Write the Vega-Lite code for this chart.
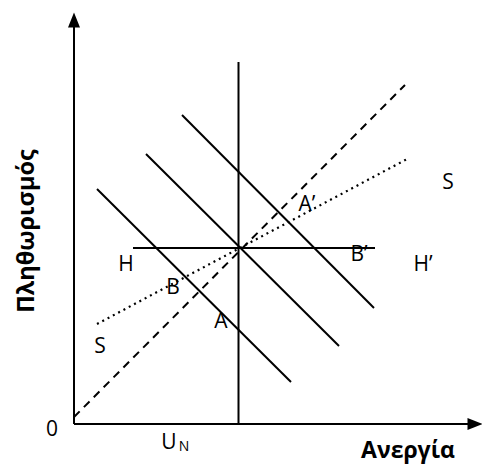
{
  "$schema": "https://vega.github.io/schema/vega-lite/v6.json",
  "width": 482,
  "height": 465,
  "padding": 0,
  "autosize": "none",
  "background": "white",
  "config": {"view": {"stroke": null}},
  "datasets": {
    "segments": [
      {"name": "yaxis", "style": "solid", "x1": 0, "y1": 0, "x2": 0, "y2": 398},
      {"name": "xaxis", "style": "solid", "x1": 0, "y1": 0, "x2": 396, "y2": 0},
      {"name": "UN", "style": "solid", "x1": 164.5, "y1": 0, "x2": 164.5, "y2": 362},
      {"name": "HH", "style": "solid", "x1": 59, "y1": 176, "x2": 301, "y2": 176},
      {"name": "AD1", "style": "solid", "x1": 23, "y1": 235, "x2": 217, "y2": 42},
      {"name": "AD2", "style": "solid", "x1": 72, "y1": 270, "x2": 265, "y2": 78},
      {"name": "AD3", "style": "solid", "x1": 108, "y1": 309, "x2": 300, "y2": 116},
      {"name": "ray", "style": "dashed", "x1": 0, "y1": 7, "x2": 331, "y2": 339},
      {"name": "SS", "style": "dotted", "x1": 23, "y1": 100, "x2": 335, "y2": 266}
    ],
    "arrows": [
      {"axis": "y", "x": 0, "y": 404},
      {"axis": "x", "x": 401, "y": 0}
    ],
    "labels": [
      {"text": "H", "x": 52, "y": 159},
      {"text": "H’", "x": 349, "y": 159},
      {"text": "B’", "x": 285, "y": 169},
      {"text": "A’", "x": 233, "y": 219},
      {"text": "B", "x": 99, "y": 136},
      {"text": "A", "x": 147, "y": 102},
      {"text": "S", "x": 374, "y": 241},
      {"text": "S", "x": 26, "y": 77},
      {"text": "0", "x": -22, "y": -6},
      {"text": "U", "x": 95, "y": -19}
    ]
  },
  "layer": [
    {
      "data": {"name": "segments"},
      "transform": [{"filter": "datum.style === 'solid'"}],
      "mark": {"type": "rule", "color": "black", "strokeWidth": 2},
      "encoding": {
        "x": {"field": "x1", "type": "quantitative", "scale": {"domain": [-74, 408], "nice": false, "zero": false}, "axis": null},
        "y": {"field": "y1", "type": "quantitative", "scale": {"domain": [-41, 424], "nice": false, "zero": false}, "axis": null},
        "x2": {"field": "x2"},
        "y2": {"field": "y2"}
      }
    },
    {
      "data": {"name": "segments"},
      "transform": [{"filter": "datum.style === 'dashed'"}],
      "mark": {"type": "rule", "color": "black", "strokeWidth": 2, "strokeDash": [8, 6]},
      "encoding": {
        "x": {"field": "x1", "type": "quantitative", "scale": {"domain": [-74, 408], "nice": false, "zero": false}, "axis": null},
        "y": {"field": "y1", "type": "quantitative", "scale": {"domain": [-41, 424], "nice": false, "zero": false}, "axis": null},
        "x2": {"field": "x2"},
        "y2": {"field": "y2"}
      }
    },
    {
      "data": {"name": "segments"},
      "transform": [{"filter": "datum.style === 'dotted'"}],
      "mark": {"type": "rule", "color": "black", "strokeWidth": 2.2, "strokeDash": [2, 4]},
      "encoding": {
        "x": {"field": "x1", "type": "quantitative", "scale": {"domain": [-74, 408], "nice": false, "zero": false}, "axis": null},
        "y": {"field": "y1", "type": "quantitative", "scale": {"domain": [-41, 424], "nice": false, "zero": false}, "axis": null},
        "x2": {"field": "x2"},
        "y2": {"field": "y2"}
      }
    },
    {
      "data": {"name": "arrows"},
      "transform": [{"filter": "datum.axis === 'y'"}],
      "mark": {"type": "point", "filled": true, "color": "black", "opacity": 1, "size": 225, "shape": "M0,-1L0.8,1L-0.8,1Z"},
      "encoding": {
        "x": {"field": "x", "type": "quantitative", "scale": {"domain": [-74, 408], "nice": false, "zero": false}, "axis": null},
        "y": {"field": "y", "type": "quantitative", "scale": {"domain": [-41, 424], "nice": false, "zero": false}, "axis": null}
      }
    },
    {
      "data": {"name": "arrows"},
      "transform": [{"filter": "datum.axis === 'x'"}],
      "mark": {"type": "point", "filled": true, "color": "black", "opacity": 1, "size": 225, "shape": "M1,0L-1,0.8L-1,-0.8Z"},
      "encoding": {
        "x": {"field": "x", "type": "quantitative", "scale": {"domain": [-74, 408], "nice": false, "zero": false}, "axis": null},
        "y": {"field": "y", "type": "quantitative", "scale": {"domain": [-41, 424], "nice": false, "zero": false}, "axis": null}
      }
    },
    {
      "data": {"name": "labels"},
      "mark": {"type": "text", "font": "Open Sans", "fontSize": 21, "color": "black", "align": "center", "baseline": "middle"},
      "encoding": {
        "x": {"field": "x", "type": "quantitative", "scale": {"domain": [-74, 408], "nice": false, "zero": false}, "axis": null},
        "y": {"field": "y", "type": "quantitative", "scale": {"domain": [-41, 424], "nice": false, "zero": false}, "axis": null},
        "text": {"field": "text"}
      }
    },
    {
      "data": {"values": [{"text": "N", "x": 110, "y": -23}]},
      "mark": {"type": "text", "font": "Open Sans", "fontSize": 14, "color": "black", "align": "center", "baseline": "middle"},
      "encoding": {
        "x": {"field": "x", "type": "quantitative", "scale": {"domain": [-74, 408], "nice": false, "zero": false}, "axis": null},
        "y": {"field": "y", "type": "quantitative", "scale": {"domain": [-41, 424], "nice": false, "zero": false}, "axis": null},
        "text": {"field": "text"}
      }
    },
    {
      "data": {"values": [{"text": "Ανεργία", "x": 334, "y": -34}]},
      "mark": {"type": "text", "font": "Open Sans", "fontSize": 23, "fontWeight": "bold", "color": "black", "align": "center", "baseline": "alphabetic"},
      "encoding": {
        "x": {"field": "x", "type": "quantitative", "scale": {"domain": [-74, 408], "nice": false, "zero": false}, "axis": null},
        "y": {"field": "y", "type": "quantitative", "scale": {"domain": [-41, 424], "nice": false, "zero": false}, "axis": null},
        "text": {"field": "text"}
      }
    },
    {
      "data": {"values": [{"text": "Πληθωρισμός", "x": -47, "y": 193}]},
      "mark": {"type": "text", "font": "Open Sans", "fontSize": 23.5, "fontWeight": "bold", "color": "black", "align": "center", "baseline": "middle", "angle": 270},
      "encoding": {
        "x": {"field": "x", "type": "quantitative", "scale": {"domain": [-74, 408], "nice": false, "zero": false}, "axis": null},
        "y": {"field": "y", "type": "quantitative", "scale": {"domain": [-41, 424], "nice": false, "zero": false}, "axis": null},
        "text": {"field": "text"}
      }
    }
  ]
}
